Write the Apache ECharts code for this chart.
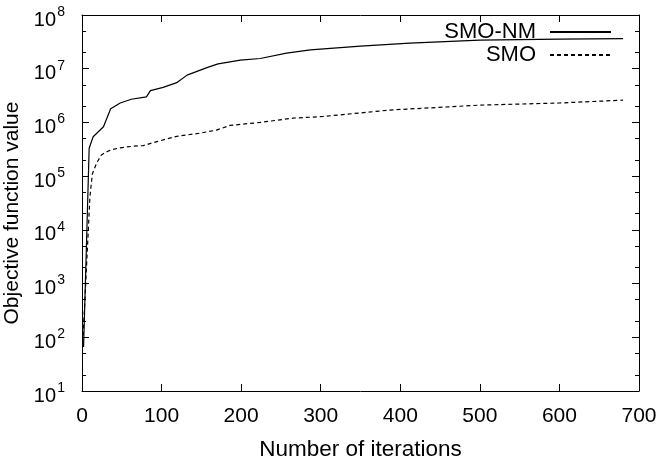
<!DOCTYPE html>
<html>
<head>
<meta charset="utf-8">
<script src="https://cdn.jsdelivr.net/npm/echarts@6/dist/echarts.min.js"></script>
<style>html,body{margin:0;padding:0;background:#fff}#c{width:663px;height:462px}</style>
</head>
<body>
<div id="c"></div>
<script>
// ---- data ----
const smoNmIter  = [2, 9, 14, 27, 36, 48, 62, 81, 86, 102, 119, 132, 157, 171, 199, 224, 257, 287, 350, 412, 500, 600, 680];
const smoNmValue = [66, 3.3e5, 5.4e5, 8.3e5, 1.8e6, 2.3e6, 2.7e6, 3.0e6, 3.9e6, 4.5e6, 5.5e6, 7.6e6, 1.05e7, 1.23e7, 1.45e7, 1.55e7, 1.95e7, 2.24e7, 2.63e7, 3.0e7, 3.4e7, 3.55e7, 3.63e7];
const smoIter    = [1, 10, 13, 18, 24, 30, 37, 45, 56, 64, 77, 94, 119, 148, 169, 186, 224, 265, 303, 387, 500, 600, 680];
const smoValue   = [80, 4.2e4, 1.1e5, 1.7e5, 2.45e5, 2.8e5, 3.1e5, 3.3e5, 3.5e5, 3.6e5, 3.7e5, 4.4e5, 5.5e5, 6.3e5, 7.2e5, 8.8e5, 1.0e6, 1.2e6, 1.29e6, 1.7e6, 2.1e6, 2.3e6, 2.6e6];
const seriesNames = ['SMO-NM', 'SMO'];
const xTitle = 'Number of iterations';
const yTitle = 'Objective function value';
const yTickBase = '10';
const yMinorTicks = [];
for (let e = 1; e < 8; e++) { yMinorTicks.push(2 * Math.pow(10, e), 5 * Math.pow(10, e)); }

const FONT = 'Liberation Sans, Arial, sans-serif';
const chart = echarts.init(document.getElementById('c'), null, {renderer: 'canvas'});
const pair = (xs, ys) => xs.map((x, i) => [x, ys[i]]);
const line = {show: true, lineStyle: {color: '#000', width: 1}};
const yBase = {type: 'log', logBase: 10, min: 10, max: 1e8, interval: 1, splitLine: {show: false}};
const legendText = {fontFamily: FONT, fontSize: 22, color: '#000', padding: [0, 9, 0, 0]};

chart.setOption({
  animation: false,
  backgroundColor: '#fff',
  grid: {left: 82, right: 24, top: 15, bottom: 71, containLabel: false, outerBoundsMode: 'none'},
  legend: [
    {data: [seriesNames[0]], right: 51, top: 21, padding: 0, align: 'right', itemWidth: 61, itemHeight: 12,
     itemStyle: {opacity: 0}, textStyle: legendText},
    {data: [seriesNames[1]], right: 51, top: 44, padding: 0, align: 'right', itemWidth: 61, itemHeight: 12,
     itemStyle: {opacity: 0}, textStyle: legendText}
  ],
  xAxis: [
    {type: 'value', min: 0, max: 700, interval: 100, position: 'bottom',
     name: xTitle, nameLocation: 'middle', nameGap: 47,
     nameTextStyle: {fontFamily: FONT, fontSize: 22.5, color: '#000'},
     axisLine: line, axisTick: {show: true, inside: true, length: 7, lineStyle: {color: '#000'}},
     axisLabel: {fontFamily: FONT, fontSize: 21, color: '#000', margin: 15},
     splitLine: {show: false}},
    {type: 'value', min: 0, max: 700, interval: 100, position: 'top',
     axisLine: line, axisTick: {show: true, inside: true, length: 7, lineStyle: {color: '#000'}},
     axisLabel: {show: false}, splitLine: {show: false}}
  ],
  yAxis: [
    // main axis: major ticks and the "10" part of each label
    Object.assign({}, yBase, {position: 'left',
     name: yTitle, nameLocation: 'middle', nameGap: 49,
     nameTextStyle: {fontFamily: FONT, fontSize: 21, color: '#000', padding: [0, 20, 0, 0]},
     axisLine: line, axisTick: {show: true, inside: true, length: 7, lineStyle: {color: '#000'}},
     axisLabel: {margin: 26, color: '#000', fontFamily: FONT, fontSize: 20, lineHeight: 10, verticalAlign: 'top',
       formatter: () => yTickBase}}),
    // minor ticks plus the exponent (superscript) part of each label
    Object.assign({}, yBase, {position: 'left',
     axisLine: {show: false},
     axisLabel: {margin: 17, color: '#000', fontFamily: FONT, fontSize: 14, lineHeight: 6, verticalAlign: 'bottom',
       formatter: v => String(Math.round(Math.log10(v)))},
     axisTick: {show: true, inside: true, length: 4, customValues: yMinorTicks, lineStyle: {color: '#000'}}}),
    Object.assign({}, yBase, {position: 'right',
     axisLine: line, axisLabel: {show: false},
     axisTick: {show: true, inside: true, length: 7, lineStyle: {color: '#000'}}}),
    Object.assign({}, yBase, {position: 'right',
     axisLine: {show: false}, axisLabel: {show: false},
     axisTick: {show: true, inside: true, length: 4, customValues: yMinorTicks, lineStyle: {color: '#000'}}})
  ],
  series: [
    {name: seriesNames[0], type: 'line', data: pair(smoNmIter, smoNmValue), showSymbol: false, symbol: 'none',
     xAxisIndex: 0, yAxisIndex: 0, lineStyle: {color: '#000', width: 1.2, type: 'solid'}, itemStyle: {color: '#000'}},
    {name: seriesNames[1], type: 'line', data: pair(smoIter, smoValue), showSymbol: false, symbol: 'none',
     xAxisIndex: 0, yAxisIndex: 0, lineStyle: {color: '#000', width: 1.2, type: [4, 3]}, itemStyle: {color: '#000'}}
  ]
});
</script>
</body>
</html>
